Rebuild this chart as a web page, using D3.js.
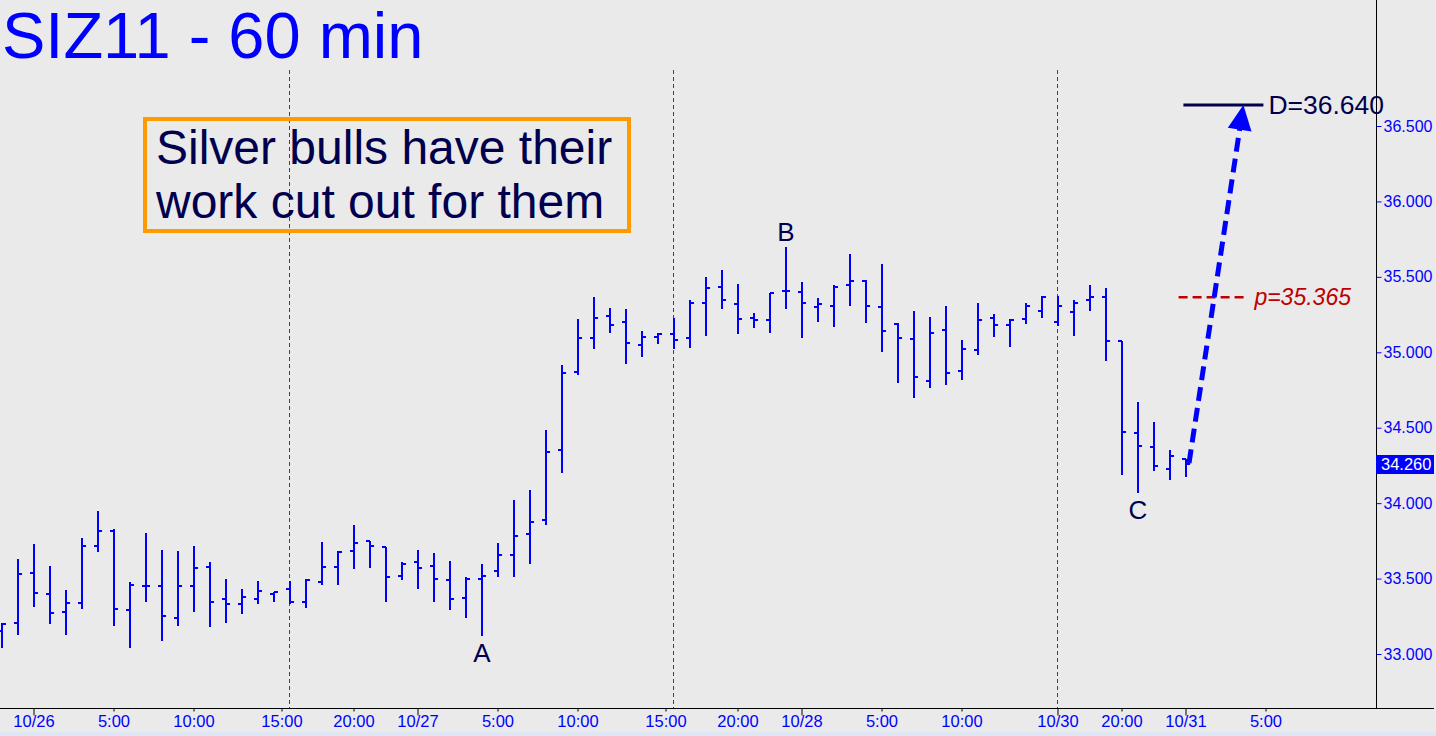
<!DOCTYPE html>
<html>
<head>
<meta charset="utf-8">
<script src="https://cdn.jsdelivr.net/npm/d3@7/dist/d3.min.js"></script>
<style>
  html, body { margin: 0; padding: 0; background: #eaeaea; overflow: hidden; }
  svg { display: block; }
  text { font-family: "Liberation Sans", Arial, sans-serif; }
</style>
</head>
<body>
<svg id="chart" width="1436" height="736"></svg>
<script>
// ---------- DATA ----------
const opens = [33.150,33.207,33.537,33.397,33.278,33.339,33.714,33.815,33.291,33.449,
  33.449,33.240,33.449,33.577,33.366,33.330,33.366,33.401,33.432,33.342,
  33.478,33.575,33.683,33.747,33.712,33.516,33.610,33.586,33.489,33.372,
  33.494,33.551,33.654,33.798,33.886,34.355,34.870,35.095,35.240,35.201,
  35.049,35.102,35.122,35.095,35.329,35.432,35.322,35.227,35.216,35.406,
  35.399,35.300,35.307,35.446,35.472,35.300,35.188,35.088,34.811,35.148,
  34.879,35.018,35.227,35.181,35.221,35.273,35.201,35.267,35.346,35.366,
  35.078,34.463,34.370,34.225,34.292];
const highs = [33.203,33.628,33.727,33.582,33.423,33.767,33.945,33.831,33.474,33.804,
  33.692,33.685,33.714,33.610,33.496,33.430,33.482,33.414,33.482,33.496,
  33.740,33.681,33.853,33.751,33.712,33.613,33.687,33.668,33.617,33.509,
  33.595,33.736,34.024,34.084,34.487,34.917,35.221,35.366,35.293,35.287,
  35.141,35.128,35.227,35.346,35.498,35.545,35.452,35.260,35.395,35.697,
  35.465,35.360,35.446,35.650,35.479,35.584,35.192,35.274,35.234,35.307,
  35.082,35.327,35.254,35.221,35.327,35.373,35.373,35.346,35.446,35.426,
  35.078,34.672,34.540,34.355,34.295];
const lows = [33.048,33.132,33.317,33.207,33.132,33.306,33.683,33.192,33.048,33.352,
  33.093,33.194,33.286,33.187,33.214,33.273,33.339,33.352,33.335,33.313,
  33.461,33.461,33.570,33.577,33.352,33.498,33.438,33.352,33.299,33.247,
  33.126,33.516,33.516,33.603,33.864,34.205,34.853,35.031,35.137,34.932,
  34.978,35.064,35.029,35.038,35.117,35.295,35.130,35.170,35.137,35.295,
  35.104,35.210,35.176,35.315,35.203,35.011,34.806,34.701,34.773,34.787,
  34.826,34.991,35.110,35.044,35.196,35.236,35.181,35.117,35.280,34.952,
  34.194,34.073,34.221,34.159,34.178];
const closes = [33.198,33.529,33.405,33.273,33.339,33.714,33.815,33.299,33.458,33.449,
  33.251,33.449,33.570,33.344,33.330,33.377,33.416,33.408,33.342,33.491,
  33.575,33.676,33.736,33.714,33.509,33.595,33.568,33.496,33.366,33.494,
  33.516,33.654,33.780,33.874,34.342,34.864,35.095,35.227,35.181,35.062,
  35.102,35.122,35.082,35.327,35.426,35.346,35.221,35.214,35.393,35.406,
  35.327,35.320,35.432,35.472,35.307,35.141,35.095,34.837,35.130,34.864,
  35.022,35.214,35.181,35.214,35.307,35.366,35.307,35.327,35.366,35.075,
  34.469,34.381,34.243,34.315,34.260];

const xTickIdx    = [2, 7, 12, 17.5, 22, 26, 31, 36, 41.5, 46, 50, 55, 60, 66, 70, 74, 79];
const xTickLabels = ["10/26","5:00","10:00","15:00","20:00","10/27","5:00","10:00","15:00","20:00","10/28","5:00","10:00","10/30","20:00","10/31","5:00"];
const sessionBreaks = [18, 42, 66];
const yTicks = [33.0, 33.5, 34.0, 34.5, 35.0, 35.5, 36.0, 36.5];
const lastPrice = 34.260;
const pivots = [{label:"A", idx:30, price:33.126, pos:"below"},
                {label:"B", idx:49, price:35.697, pos:"above"},
                {label:"C", idx:71, price:34.073, pos:"below"}];
const targetD = 36.640;
const targetP = 35.365;
const arrowFrom = {idx:74.25, price:34.265};
const arrowTo   = {idx:77.65, price:36.640};
const title = "SIZ11 - 60 min";
const note = ["Silver bulls have their", "work cut out for them"];

// ---------- SCALES ----------
const svg = d3.select("#chart");
const W = 1436, H = 736;
const axisX = 1376, axisY = 708;
const x = d3.scaleLinear().domain([0, 1]).range([1, 17]);
const y = d3.scaleLinear().domain([33, 36.5]).range([654, 126]);
const blue = "#0000ff", navy = "#00004e";

svg.append("rect").attr("width", W).attr("height", H).attr("fill", "#eaeaea");
svg.append("rect").attr("x", 0).attr("y", 732).attr("width", W).attr("height", 4).attr("fill", "#dde6f4");

// session separators
svg.selectAll("line.sess").data(sessionBreaks).enter().append("line")
  .attr("x1", d => Math.round(x(d)) + 0.5).attr("x2", d => Math.round(x(d)) + 0.5)
  .attr("y1", 70).attr("y2", axisY)
  .attr("stroke", "#444").attr("stroke-width", 1).attr("stroke-dasharray", "4,3");

// axes lines
svg.append("line").attr("x1", 0).attr("x2", 1434).attr("y1", axisY + 0.5).attr("y2", axisY + 0.5)
  .attr("stroke", "#000").attr("stroke-width", 1);
svg.append("line").attr("x1", axisX + 0.5).attr("x2", axisX + 0.5).attr("y1", 0).attr("y2", axisY)
  .attr("stroke", "#000").attr("stroke-width", 1);

// y axis (right)
const yAxis = d3.axisRight(y).tickValues(yTicks).tickFormat(d3.format(".3f")).tickSize(5).tickPadding(2);
const gy = svg.append("g").attr("transform", `translate(${axisX + 0.5},0)`).call(yAxis);
gy.select(".domain").remove();
gy.selectAll("line").attr("stroke", "#0000ff");
gy.selectAll("text").attr("fill", blue).attr("font-size", "16px")
  .attr("font-family", "'Liberation Sans', Arial, sans-serif");

// x axis
const xAxis = d3.axisBottom(x).tickValues(xTickIdx)
  .tickFormat((d, i) => xTickLabels[i]).tickSize(4).tickPadding(5);
const gx = svg.append("g").attr("transform", `translate(0.5,${axisY + 0.5})`).call(xAxis);
gx.select(".domain").remove();
gx.selectAll(".tick line").attr("stroke", "#000")
  .attr("y2", (d, i) => xTickLabels[i].includes("/") ? 7 : 3);
gx.selectAll("text").attr("fill", blue).attr("font-size", "16.5px")
  .attr("font-family", "'Liberation Sans', Arial, sans-serif").attr("dy", "0.6em");

// OHLC bars
const bars = opens.map((o, i) => ({i, o, h: highs[i], l: lows[i], c: closes[i]}));
const gb = svg.append("g").attr("stroke", blue).attr("stroke-width", 2).attr("shape-rendering", "crispEdges");
const cx = d => Math.round(x(d.i)) + 1;
gb.selectAll("line.hl").data(bars).enter().append("line")
  .attr("x1", cx).attr("x2", cx)
  .attr("y1", d => Math.round(y(d.h))).attr("y2", d => Math.round(y(d.l)) + 1);
gb.selectAll("line.o").data(bars).enter().append("line")
  .attr("x1", d => cx(d) - 4).attr("x2", d => cx(d))
  .attr("y1", d => Math.round(y(d.o))).attr("y2", d => Math.round(y(d.o)));
gb.selectAll("line.c").data(bars).enter().append("line")
  .attr("x1", d => cx(d)).attr("x2", d => cx(d) + 4)
  .attr("y1", d => Math.round(y(d.c))).attr("y2", d => Math.round(y(d.c)));

// pivot labels
svg.selectAll("text.piv").data(pivots).enter().append("text")
  .attr("x", d => x(d.idx) + 1)
  .attr("y", d => d.pos === "below" ? y(d.price) + 27 : y(d.price) - 6)
  .attr("text-anchor", "middle").attr("fill", navy).attr("font-size", "26px")
  .text(d => d.label);

// target D
svg.append("line").attr("x1", x(73.9)).attr("x2", x(78.9))
  .attr("y1", y(targetD)).attr("y2", y(targetD))
  .attr("stroke", navy).attr("stroke-width", 3);
svg.append("text").attr("x", x(78.9) + 5).attr("y", y(targetD) + 9)
  .attr("fill", navy).attr("font-size", "26.5px").text("D=" + targetD.toFixed(3));

// p level
svg.append("line").attr("x1", x(73.6)).attr("x2", x(77.9))
  .attr("y1", y(targetP)).attr("y2", y(targetP))
  .attr("stroke", "#c00000").attr("stroke-width", 2.5).attr("stroke-dasharray", "9,5");
svg.append("text").attr("x", x(77.9) + 7).attr("y", y(targetP) + 8)
  .attr("fill", "#c00000").attr("font-size", "23px").attr("font-style", "italic")
  .text("p=" + targetP.toFixed(3));

// dashed arrow
const ax1 = x(arrowFrom.idx), ay1 = y(arrowFrom.price), ax2 = x(arrowTo.idx), ay2 = y(arrowTo.price);
const ang = Math.atan2(ay2 - ay1, ax2 - ax1);
const headLen = 25, headHalf = 12;
const bx = ax2 - headLen * Math.cos(ang), by = ay2 - headLen * Math.sin(ang);
svg.append("line").attr("x1", ax1).attr("y1", ay1).attr("x2", bx + 2 * Math.cos(ang)).attr("y2", by + 2 * Math.sin(ang))
  .attr("stroke", blue).attr("stroke-width", 5).attr("stroke-dasharray", "14,7");
svg.append("path").attr("fill", blue)
  .attr("d", `M${ax2},${ay2} L${bx - headHalf * Math.sin(ang)},${by + headHalf * Math.cos(ang)} L${bx + headHalf * Math.sin(ang)},${by - headHalf * Math.cos(ang)} Z`);

// last price tag
svg.append("rect").attr("x", axisX).attr("y", Math.round(y(lastPrice)) - 9).attr("width", 58).attr("height", 19).attr("fill", blue);
svg.append("text").attr("x", axisX + 5).attr("y", Math.round(y(lastPrice)) + 6)
  .attr("fill", "#fff").attr("font-size", "16.5px").text(lastPrice.toFixed(3));

// title
svg.append("text").attr("x", 2).attr("y", 58).attr("fill", blue).attr("font-size", "65px").text(title);

// note box
svg.append("rect").attr("x", 145).attr("y", 119).attr("width", 484).attr("height", 112)
  .attr("fill", "none").attr("stroke", "#ff9a00").attr("stroke-width", 4);
svg.selectAll("text.note").data(note).enter().append("text")
  .attr("x", 156).attr("y", (d, i) => 164 + i * 54)
  .attr("fill", navy).attr("font-size", "48px").text(d => d);
</script>
</body>
</html>
